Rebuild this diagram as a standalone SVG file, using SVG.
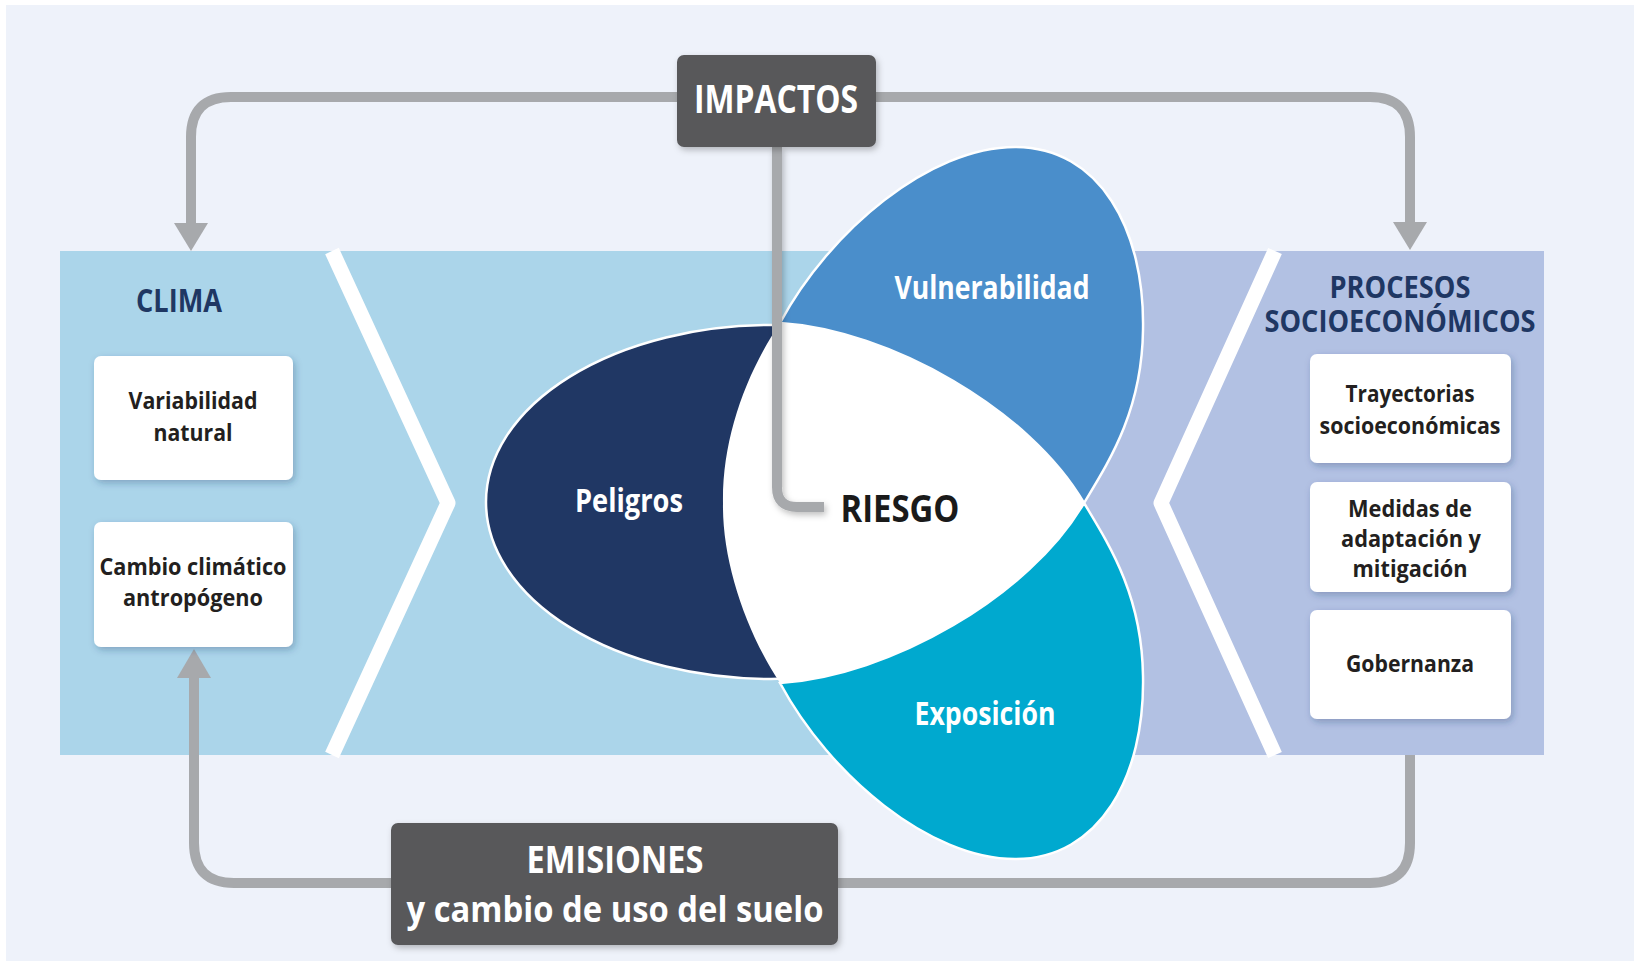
<svg xmlns="http://www.w3.org/2000/svg" width="1634" height="961" viewBox="0 0 1634 961">
<style>
.t{font-family:"Open Sans","Liberation Sans",sans-serif;font-weight:700;text-anchor:middle}
.box{fill:#FFFFFF}
.dark{fill:#58585A}
.bt{font-size:24px;fill:#231F20}
.pt{font-size:33px;fill:#FFFFFF}
.ht{fill:#1F3763}
.con{fill:none;stroke:#A7A9AC;stroke-width:10}
.arr{fill:#A7A9AC}
.chev{fill:none;stroke:#FFFFFF;stroke-width:15;stroke-linejoin:round}
</style>
<defs>
<filter id="sh" x="-20%" y="-20%" width="140%" height="150%">
<feDropShadow dx="2" dy="3" stdDeviation="3.5" flood-color="#1F3763" flood-opacity="0.3"/>
</filter>
<filter id="shd" x="-20%" y="-20%" width="140%" height="150%">
<feDropShadow dx="2" dy="3" stdDeviation="3" flood-color="#000000" flood-opacity="0.25"/>
</filter>
</defs>
<rect x="0" y="0" width="1634" height="961" fill="#FFFFFF"/>
<rect x="6" y="5" width="1628" height="956" fill="#EEF2FA"/>
<!-- panels -->
<rect x="60" y="251" width="1030" height="504" fill="#ABD5EA"/>
<rect x="1085" y="251" width="459" height="504" fill="#B2C1E3"/>
<polyline class="chev" points="332,251 448,503 332,755"/>
<polyline class="chev" points="1275,251 1161,503 1275,755"/>

<!-- petals -->
<g id="peligros">
<ellipse cx="771" cy="502" rx="285" ry="177" fill="#203764" stroke="#FFFFFF" stroke-width="2.5"/>
</g>
<g id="vulnerabilidad">
<path d="M780,323 C830,230 930,147 1015,147 C1100,147 1145,230 1143,330 C1142,410 1110,460 1084,503 C1030,410 890,330 780,323 Z" fill="#4A8ECB" stroke="#FFFFFF" stroke-width="2.5"/>
</g>
<g id="exposicion">
<path d="M780,683 C830,776 930,859 1015,859 C1100,859 1145,776 1143,676 C1142,596 1110,546 1084,503 C1030,596 890,676 780,683 Z" fill="#00A9CF" stroke="#FFFFFF" stroke-width="2.5"/>
</g>
<g id="riesgo">
<path d="M780,323 C890,330 1030,410 1084,503 C1030,596 890,676 780,683 C745,630 722,560 723,503 C722,440 745,375 780,323 Z" fill="#FFFFFF"/>
</g>
<text class="t pt" x="992" y="299" textLength="195" lengthAdjust="spacingAndGlyphs">Vulnerabilidad</text>
<text class="t pt" x="629" y="512" textLength="108" lengthAdjust="spacingAndGlyphs">Peligros</text>
<text class="t pt" x="985" y="725" textLength="141" lengthAdjust="spacingAndGlyphs">Exposición</text>

<!-- connectors -->
<g id="connectors">
<path class="con" d="M677,97 H231 Q191,97 191,137 V226"/>
<polygon class="arr" points="174,223 208,223 191,251"/>
<path class="con" d="M876,97 H1370 Q1410,97 1410,137 V226"/>
<polygon class="arr" points="1393,222 1427,222 1410,250"/>
<path class="con" d="M1410,755 V843 Q1410,883 1370,883 H234 Q194,883 194,843 V676"/>
<polygon class="arr" points="177,678 211,678 194,649"/>
<path class="con" d="M777,147 V487 Q777,507 797,507 H824" filter="url(#shd)"/>
</g>
<text class="t" x="900" y="522" font-size="38" fill="#1A1A1A" textLength="119" lengthAdjust="spacingAndGlyphs">RIESGO</text>

<!-- headers -->
<text class="t ht" x="179" y="312" font-size="33" textLength="86" lengthAdjust="spacingAndGlyphs">CLIMA</text>
<text class="t ht" x="1400" y="298" font-size="30" textLength="141" lengthAdjust="spacingAndGlyphs">PROCESOS</text>
<text class="t ht" x="1400" y="332" font-size="30" textLength="271" lengthAdjust="spacingAndGlyphs">SOCIOECONÓMICOS</text>

<!-- nodes -->
<g id="impactos">
<rect class="dark" x="677" y="55" width="199" height="92" rx="7" filter="url(#shd)"/>
<text class="t" x="776" y="113" font-size="40" fill="#FFFFFF" textLength="164" lengthAdjust="spacingAndGlyphs">IMPACTOS</text>
</g>
<g id="emisiones">
<rect class="dark" x="391" y="823" width="447" height="122" rx="7" filter="url(#shd)"/>
<text class="t" x="615" y="873" font-size="37" fill="#FFFFFF" textLength="177" lengthAdjust="spacingAndGlyphs">EMISIONES</text>
<text class="t" x="615" y="922" font-size="36" fill="#FFFFFF" textLength="417" lengthAdjust="spacingAndGlyphs">y cambio de uso del suelo</text>
</g>
<g id="variabilidad">
<rect class="box" x="94" y="356" width="199" height="124" rx="7" filter="url(#sh)"/>
<text class="t bt" x="193" y="409" textLength="129" lengthAdjust="spacingAndGlyphs">Variabilidad</text>
<text class="t bt" x="193" y="441" textLength="79" lengthAdjust="spacingAndGlyphs">natural</text>
</g>
<g id="cambio">
<rect class="box" x="94" y="522" width="199" height="125" rx="7" filter="url(#sh)"/>
<text class="t bt" x="193" y="575" textLength="187" lengthAdjust="spacingAndGlyphs">Cambio climático</text>
<text class="t bt" x="193" y="606" textLength="140" lengthAdjust="spacingAndGlyphs">antropógeno</text>
</g>
<g id="trayectorias">
<rect class="box" x="1310" y="354" width="201" height="109" rx="7" filter="url(#sh)"/>
<text class="t bt" x="1410" y="402" font-size="23" textLength="129" lengthAdjust="spacingAndGlyphs">Trayectorias</text>
<text class="t bt" x="1410" y="434" font-size="23" textLength="181" lengthAdjust="spacingAndGlyphs">socioeconómicas</text>
</g>
<g id="medidas">
<rect class="box" x="1310" y="482" width="201" height="110" rx="7" filter="url(#sh)"/>
<text class="t bt" x="1410" y="517" textLength="124" lengthAdjust="spacingAndGlyphs">Medidas de</text>
<text class="t bt" x="1411" y="547" textLength="140" lengthAdjust="spacingAndGlyphs">adaptación y</text>
<text class="t bt" x="1410" y="577" textLength="115" lengthAdjust="spacingAndGlyphs">mitigación</text>
</g>
<g id="gobernanza">
<rect class="box" x="1310" y="610" width="201" height="109" rx="7" filter="url(#sh)"/>
<text class="t bt" x="1410" y="672" textLength="128" lengthAdjust="spacingAndGlyphs">Gobernanza</text>
</g>
</svg>
